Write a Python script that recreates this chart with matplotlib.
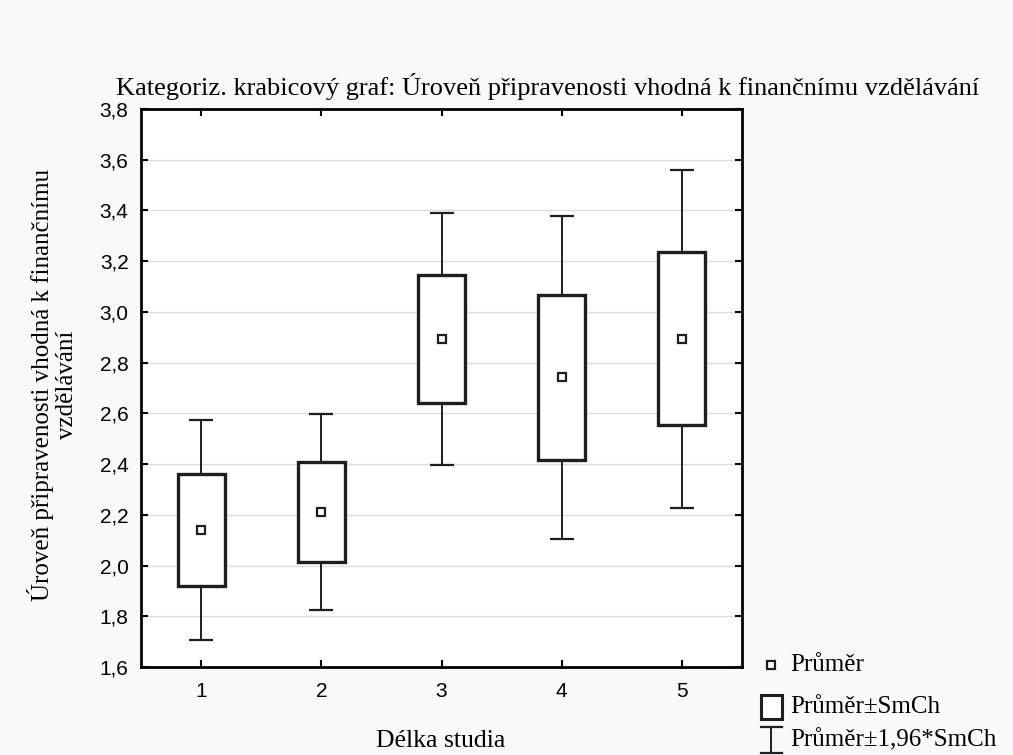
import matplotlib
matplotlib.use("Agg")
import matplotlib.pyplot as plt
from matplotlib.lines import Line2D
from matplotlib.patches import Rectangle
import numpy as np

categories = ["1", "2", "3", "4", "5"]
means = [2.140, 2.210, 2.893, 2.742, 2.895]
se = [0.222, 0.197, 0.253, 0.325, 0.340]
yticks = [1.6, 1.8, 2.0, 2.2, 2.4, 2.6, 2.8, 3.0, 3.2, 3.4, 3.6, 3.8]
ytick_labels = ["1,6", "1,8", "2,0", "2,2", "2,4", "2,6", "2,8", "3,0", "3,2", "3,4", "3,6", "3,8"]
title = "Kategoriz. krabicový graf: Úroveň připravenosti vhodná k finančnímu vzdělávání"
xlabel = "Délka studia"
ylabel = "Úroveň připravenosti vhodná k finančnímu\nvzdělávání"
legend_labels = ["Průměr", "Průměr±SmCh", "Průměr±1,96*SmCh"]

serif = ["Liberation Serif", "DejaVu Serif"]
sans = ["Liberation Sans", "DejaVu Sans"]
ink = "#1e1e1e"
bg = "#f9f9f9"

fig = plt.figure(figsize=(10.13, 7.55), dpi=100, facecolor=bg)
ax = fig.add_axes([0.1392, 0.1166, 0.5933, 0.7390])
ax.set_facecolor("white")

x = np.arange(1, len(categories) + 1)
m = np.array(means)
s = np.array(se)

ax.errorbar(x, m, yerr=1.96 * s, fmt="none", ecolor=ink, elinewidth=1.4,
            capsize=8.6, capthick=1.6, zorder=2)
ax.bar(x, 2 * s, bottom=m - s, width=0.39, color="white", edgecolor=ink,
       linewidth=2.4, zorder=3)
ax.plot(x, m, linestyle="none", marker="s", markersize=6, markerfacecolor="white",
        markeredgecolor=ink, markeredgewidth=1.6, zorder=4)

ax.set_xlim(0.5, 5.5)
ax.set_ylim(1.6, 3.8)
ax.set_xticks(x)
ax.set_xticklabels(categories, fontfamily=sans, fontsize=15)
ax.set_yticks(yticks)
ax.set_yticklabels(ytick_labels, fontfamily=sans, fontsize=15)
ax.tick_params(direction="in", length=5, width=1.5, top=True, right=True,
               colors="black", pad=9)
ax.tick_params(axis="x", pad=11)
ax.yaxis.grid(True, color="#dcdcdc", linewidth=1.0, zorder=0)
ax.set_axisbelow(True)
for sp in ax.spines.values():
    sp.set_linewidth(2.0)
    sp.set_color("black")

fig.text(0.541, 0.886, title, ha="center", va="center", fontfamily=serif, fontsize=19)
fig.text(0.4353, 0.019, xlabel, ha="center", va="center", fontfamily=serif, fontsize=18.5)
fig.text(0.052, 0.49, ylabel, ha="center", va="center", rotation=90,
         fontfamily=serif, fontsize=18, linespacing=1.15)

# legend drawn manually in figure coordinates
lx = 0.7615
ly = [0.119, 0.0636, 0.020]
fig.add_artist(Line2D([lx], [ly[0]], transform=fig.transFigure, linestyle="none",
                      marker="s", markersize=5.5, markerfacecolor="white",
                      markeredgecolor=ink, markeredgewidth=1.6))
w = 0.0200
h = 0.032
fig.add_artist(Rectangle((lx - w / 2, ly[1] - h / 2), w, h, transform=fig.transFigure,
                         facecolor="white", edgecolor=ink, linewidth=2.2))
bh = 0.0175
bw = 0.0102
fig.add_artist(Line2D([lx, lx], [ly[2] - bh, ly[2] + bh], transform=fig.transFigure,
                      color=ink, linewidth=1.4))
fig.add_artist(Line2D([lx - bw, lx + bw], [ly[2] + bh, ly[2] + bh],
                      transform=fig.transFigure, color=ink, linewidth=1.6))
fig.add_artist(Line2D([lx - bw, lx + bw], [ly[2] - bh, ly[2] - bh],
                      transform=fig.transFigure, color=ink, linewidth=1.6))
for yy, lab in zip(ly, legend_labels):
    fig.text(lx + 0.019, yy, lab, ha="left", va="center", fontfamily=serif, fontsize=18)

fig.savefig("out.png", dpi=100, facecolor=bg)
